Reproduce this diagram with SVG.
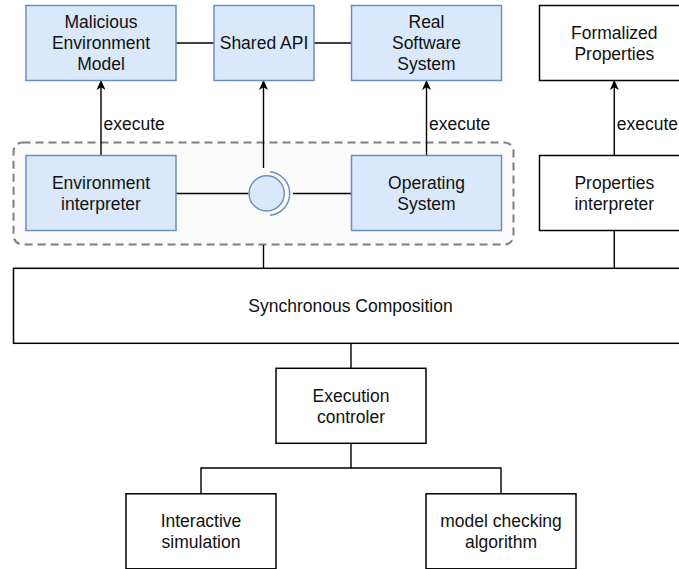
<svg xmlns="http://www.w3.org/2000/svg" width="679" height="569" viewBox="0 0 679 569">
<defs>
<style>
.t{font-family:"Liberation Sans",Arial,sans-serif;font-size:17.5px;fill:#111;text-anchor:middle}
.lbl{font-family:"Liberation Sans",Arial,sans-serif;font-size:17.5px;fill:#111;text-anchor:start}
.blue{fill:#dae8fc;stroke:#6c8ebf;stroke-width:1.5}
.plain{fill:#fff;stroke:#000;stroke-width:1.5}
.ln{fill:none;stroke:#000;stroke-width:1.4}
</style>
<marker id="arr" viewBox="0 0 10 10" refX="9" refY="5" markerWidth="10" markerHeight="10" markerUnits="userSpaceOnUse" orient="auto">
<path d="M0,0.5 L10,5 L0,9.5 L2.8,5 Z" fill="#000"/>
</marker>
</defs>
<rect width="679" height="569" fill="#fff"/>
<g id="group-box">
<rect x="13.5" y="142.5" width="500" height="102" rx="9" ry="9" fill="#fafafa" stroke="#7f7f7f" stroke-width="2" stroke-dasharray="8,5"/>
</g>
<g id="connectors">
<line class="ln" x1="176" y1="43" x2="214" y2="43"/>
<line class="ln" x1="314" y1="43" x2="351" y2="43"/>
<line class="ln" x1="101" y1="155" x2="101" y2="81" marker-end="url(#arr)"/>
<line class="ln" x1="263.5" y1="168" x2="263.5" y2="81" marker-end="url(#arr)"/>
<line class="ln" x1="426.5" y1="155" x2="426.5" y2="81" marker-end="url(#arr)"/>
<line class="ln" x1="614.3" y1="155" x2="614.3" y2="81" marker-end="url(#arr)"/>
<line class="ln" x1="176" y1="193.5" x2="248.5" y2="193.5"/>
<line class="ln" x1="293" y1="193.5" x2="351" y2="193.5"/>
<line class="ln" x1="263.5" y1="245" x2="263.5" y2="268"/>
<line class="ln" x1="614.3" y1="230" x2="614.3" y2="268"/>
<line class="ln" x1="351" y1="343" x2="351" y2="368"/>
<polyline class="ln" points="351,443 351,468 201,468 201,494"/>
<polyline class="ln" points="351,468 501,468 501,494"/>
<text class="lbl" x="103.5" y="130">execute</text>
<text class="lbl" x="429" y="130">execute</text>
<text class="lbl" x="616.8" y="130">execute</text>
</g>
<g id="interface">
<circle cx="266.7" cy="193.4" r="17.6" fill="#dae8fc" stroke="#6c8ebf" stroke-width="1.4"/>
<path d="M270,171.8 A21.8 21.8 0 0 1 270,215.2" fill="none" stroke="#6c8ebf" stroke-width="1.4"/>
</g>
<g id="malicious-env-model">
<rect class="blue" x="26" y="5.5" width="150" height="75"/>
<text class="t" x="101" y="27.5">Malicious</text>
<text class="t" x="101" y="48.5">Environment</text>
<text class="t" x="101" y="69.5">Model</text>
</g>
<g id="shared-api">
<rect class="blue" x="214" y="5.5" width="100" height="75"/>
<text class="t" x="264" y="48.5">Shared API</text>
</g>
<g id="real-software-system">
<rect class="blue" x="351.5" y="5.5" width="150" height="75"/>
<text class="t" x="426.5" y="27.5">Real</text>
<text class="t" x="426.5" y="48.5">Software</text>
<text class="t" x="426.5" y="69.5">System</text>
</g>
<g id="formalized-properties">
<rect class="plain" x="539.5" y="5.5" width="150" height="75"/>
<text class="t" x="614.3" y="38.5">Formalized</text>
<text class="t" x="614.3" y="59.5">Properties</text>
</g>
<g id="environment-interpreter">
<rect class="blue" x="26" y="155.5" width="150" height="75"/>
<text class="t" x="101" y="188.5">Environment</text>
<text class="t" x="101" y="209.5">interpreter</text>
</g>
<g id="operating-system">
<rect class="blue" x="351.5" y="155.5" width="150" height="75"/>
<text class="t" x="426.5" y="188.5">Operating</text>
<text class="t" x="426.5" y="209.5">System</text>
</g>
<g id="properties-interpreter">
<rect class="plain" x="539.5" y="155.5" width="150" height="75"/>
<text class="t" x="614.3" y="188.5">Properties</text>
<text class="t" x="614.3" y="209.5">interpreter</text>
</g>
<g id="synchronous-composition">
<rect class="plain" x="13.5" y="268.3" width="700" height="75"/>
<text class="t" x="350.5" y="311.8">Synchronous Composition</text>
</g>
<g id="execution-controler">
<rect class="plain" x="276" y="368.3" width="150" height="75"/>
<text class="t" x="351" y="401.8">Execution</text>
<text class="t" x="351" y="422.8">controler</text>
</g>
<g id="interactive-simulation">
<rect class="plain" x="126" y="493.8" width="150" height="75"/>
<text class="t" x="201" y="527.3">Interactive</text>
<text class="t" x="201" y="548.3">simulation</text>
</g>
<g id="model-checking-algorithm">
<rect class="plain" x="426" y="493.8" width="150" height="75"/>
<text class="t" x="501" y="527.3">model checking</text>
<text class="t" x="501" y="548.3">algorithm</text>
</g>
</svg>
